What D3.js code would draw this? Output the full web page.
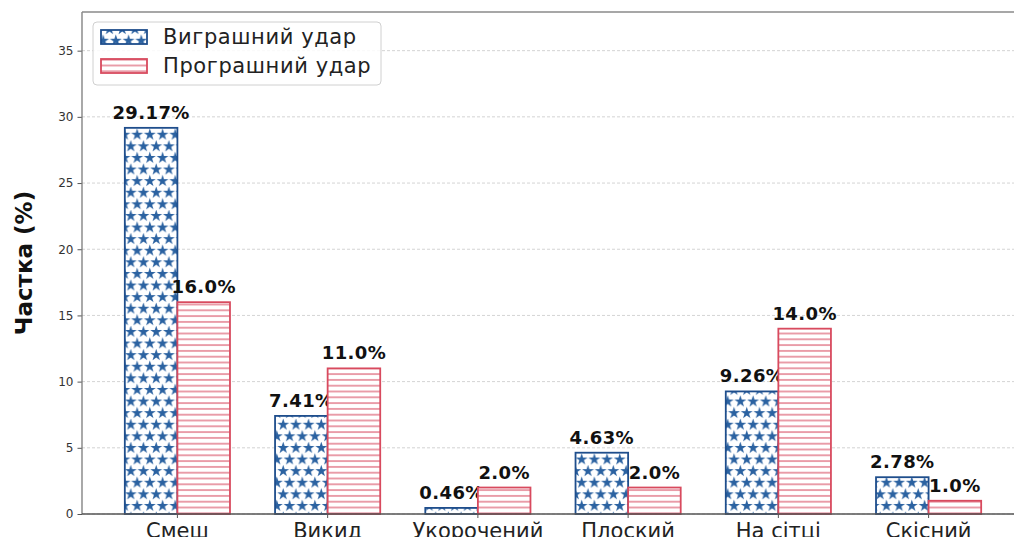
<!DOCTYPE html>
<html>
<head>
<meta charset="utf-8">
<script src="https://cdn.jsdelivr.net/npm/d3@7/dist/d3.min.js"></script>
<style>
  html, body { margin: 0; padding: 0; background: #fff; }
  svg { display: block; font-family: "DejaVu Sans", sans-serif; }
</style>
</head>
<body>
<svg id="chart" width="1014" height="537"></svg>
<script>
// data
var categories = ["Смеш", "Викид", "Укорочений", "Плоский", "На сітці", "Скісний"];
var seriesNames = ["Виграшний удар", "Програшний удар"];
var winValues = [29.17, 7.41, 0.46, 4.63, 9.26, 2.78];
var loseValues = [16.0, 11.0, 2.0, 2.0, 14.0, 1.0];
var winLabels = ["29.17%", "7.41%", "0.46%", "4.63%", "9.26%", "2.78%"];
var loseLabels = ["16.0%", "11.0%", "2.0%", "2.0%", "14.0%", "1.0%"];
var yTicks = [0, 5, 10, 15, 20, 25, 30, 35];

var blueEdge = "#1f4e8c", blueHatch = "#2b62a1";
var redEdge = "#d84a5e", redHatch = "#dd6074";

function paint_chart() {
	var svg = d3.select("#chart"),
			left = 82, right = 1024, top = 12, bottom = 514;

	// index scale: matplotlib-like xlim around bars
	var xIdx = d3.scaleLinear().domain([-0.635, categories.length - 1 + 0.635]).range([left, right]);
	var step = xIdx(1) - xIdx(0);
	var x = d3.scaleBand().domain(categories)
			.range([xIdx(-0.5), xIdx(categories.length - 0.5)]).paddingInner(0).paddingOuter(0);
	var xSub = d3.scaleBand().domain(seriesNames)
			.range([step / 2 - 0.35 * step, step / 2 + 0.35 * step]);
	var y = d3.scaleLinear().domain([0, d3.max(winValues) * 1.3]).range([bottom, top]);

	// patterns
	var defs = svg.append("defs");
	var star = d3.symbol().type(d3.symbolStar).size(44);
	var pStar = defs.append("pattern").attr("id", "stars")
		.attr("patternUnits", "userSpaceOnUse")
		.attr("width", 12.7).attr("height", 23.2)
		.attr("x", 0.6).attr("y", 1.3);
	pStar.append("rect").attr("width", 12.7).attr("height", 23.2).attr("fill", "#fff");
	[[3.2, 5.8], [9.55, 17.4], [-3.15, 17.4], [15.9, 5.8]].forEach(function(p) {
		pStar.append("path").attr("d", star).attr("fill", blueHatch)
			.attr("transform", "translate(" + p[0] + "," + p[1] + ")");
	});
	var pLine = defs.append("pattern").attr("id", "hlines")
		.attr("patternUnits", "userSpaceOnUse")
		.attr("width", 10).attr("height", 5.8);
	pLine.append("rect").attr("width", 10).attr("height", 5.8).attr("fill", "#fff");
	pLine.append("rect").attr("y", 2.3).attr("width", 10).attr("height", 1.2).attr("fill", redHatch);

	// grid
	svg.append("g").selectAll("line").data(yTicks).enter().append("line")
		.attr("x1", left).attr("x2", 1014)
		.attr("y1", function(d) { return y(d); }).attr("y2", function(d) { return y(d); })
		.attr("stroke", "#c8c8c8").attr("stroke-width", 0.8).attr("stroke-dasharray", "3,2");

	// bars
	var groups = [
		{ name: seriesNames[0], values: winValues, labels: winLabels, fill: "url(#stars)", edge: blueEdge },
		{ name: seriesNames[1], values: loseValues, labels: loseLabels, fill: "url(#hlines)", edge: redEdge }
	];
	groups.forEach(function(s) {
		var g = svg.append("g");
		g.selectAll("rect").data(s.values).enter().append("rect")
			.attr("x", function(d, i) { return x(categories[i]) + xSub(s.name); })
			.attr("y", function(d) { return y(d); })
			.attr("width", xSub.bandwidth())
			.attr("height", function(d) { return y(0) - y(d); })
			.attr("fill", s.fill).attr("stroke", s.edge).attr("stroke-width", 1.8);
		g.selectAll("text").data(s.values).enter().append("text")
			.attr("x", function(d, i) { return x(categories[i]) + xSub(s.name) + xSub.bandwidth() / 2; })
			.attr("y", function(d) { return y(d) - 9; })
			.attr("text-anchor", "middle")
			.attr("font-size", "18px").attr("font-weight", "bold").attr("fill", "#111")
			.attr("letter-spacing", "0.4px")
			.text(function(d, i) { return s.labels[i]; });
	});

	// axes
	var yAxis = svg.append("g").attr("transform", "translate(" + left + ",0)")
		.call(d3.axisLeft(y).tickValues(yTicks).tickSize(4.5).tickPadding(4));
	yAxis.select(".domain").remove();
	yAxis.selectAll("text").attr("font-size", "12px").attr("fill", "#333").attr("font-family", "DejaVu Sans");
	yAxis.selectAll("line").attr("stroke", "#555");

	var xAxis = svg.append("g").attr("transform", "translate(0," + bottom + ")")
		.call(d3.axisBottom(x).tickSize(4).tickPadding(5));
	xAxis.select(".domain").remove();
	xAxis.selectAll("text").attr("font-size", "21px").attr("fill", "#222").attr("font-family", "DejaVu Sans")
		.attr("dy", "0.71em");
	xAxis.selectAll("line").attr("stroke", "#555");

	// spines
	svg.append("line").attr("x1", left).attr("x2", left).attr("y1", top).attr("y2", bottom)
		.attr("stroke", "#7a7a7a").attr("stroke-width", 1.3);
	svg.append("line").attr("x1", left).attr("x2", right).attr("y1", top).attr("y2", top)
		.attr("stroke", "#8a8a8a").attr("stroke-width", 1.3);
	svg.append("line").attr("x1", left).attr("x2", right).attr("y1", bottom).attr("y2", bottom)
		.attr("stroke", "#555").attr("stroke-width", 1.3);

	// y label
	svg.append("text")
		.attr("transform", "translate(32," + ((top + bottom) / 2) + ") rotate(-90)")
		.attr("text-anchor", "middle")
		.attr("font-size", "23px").attr("font-weight", "bold").attr("fill", "#111")
		.text("Частка (%)");

	// legend
	var lg = svg.append("g").attr("transform", "translate(93,22)");
	lg.append("rect").attr("width", 288).attr("height", 63).attr("rx", 4)
		.attr("fill", "#fff").attr("fill-opacity", 0.85).attr("stroke", "#d0d0d0");
	groups.forEach(function(s, i) {
		lg.append("rect").attr("x", 8).attr("y", 8 + i * 29).attr("width", 46).attr("height", 14)
			.attr("fill", s.fill).attr("stroke", s.edge).attr("stroke-width", 1.8);
		lg.append("text").attr("x", 70).attr("y", 15 + i * 29).attr("dy", "0.35em")
			.attr("font-size", "21px").attr("fill", "#222").attr("letter-spacing", "0.6px")
			.text(s.name);
	});
}

paint_chart();
</script>
</body>
</html>
